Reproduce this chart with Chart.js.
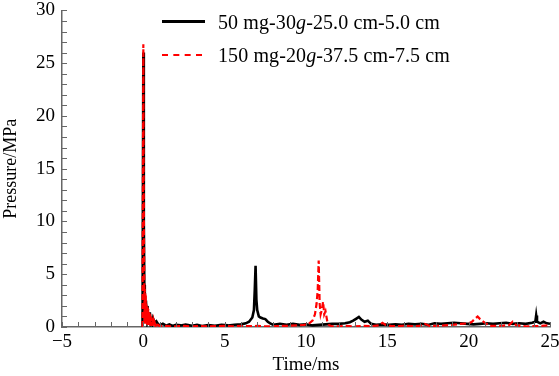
<!DOCTYPE html>
<html>
<head>
<meta charset="utf-8">
<script src="https://cdn.jsdelivr.net/npm/chart.js@4/dist/chart.umd.min.js"></script>
<style>
  html, body { margin: 0; padding: 0; background: #fff; }
  #wrap { position: relative; width: 559px; height: 376px; }
  #legend { position: absolute; left: 162px; top: 8px; font-family: "Liberation Serif", serif; font-size: 20px; letter-spacing: 0.1px; color: #000; }
  .row { position: absolute; left: 0; white-space: nowrap; height: 28px; line-height: 28px; }
  .swatch { position: absolute; left: 0; width: 43px; top: 14px; }
  .label { position: absolute; left: 56px; top: 0; }
</style>
</head>
<body>
<div id="wrap">
  <canvas id="chart" width="559" height="376"></canvas>
  <div id="legend">
    <div class="row" style="top:0px"><div class="swatch" style="border-top:3px solid #000;top:12px"></div><div class="label">50 mg-30<i>g</i>-25.0 cm-5.0 cm</div></div>
    <div class="row" style="top:33px"><div class="swatch" style="border-top:2px dashed #ff0000;width:40px;top:13px"></div><div class="label">150 mg-20<i>g</i>-37.5 cm-7.5 cm</div></div>
  </div>
</div>
<script>
// series 1: 50 mg-30g-25.0 cm-5.0 cm
const blackTime = [-0.05, 0.0, 0.03, 0.06, 0.08, 0.1, 0.13, 0.16, 0.2, 0.23, 0.26, 0.3, 0.35, 0.4, 0.45, 0.5, 0.55, 0.6, 0.7, 0.8, 0.9, 1.0, 1.2, 1.4, 1.6, 1.8, 2.0, 2.3, 2.6, 3.0, 3.3, 3.6, 4.0, 4.4, 4.8, 5.2, 5.6, 6.0, 6.3, 6.5, 6.7, 6.8, 6.85, 6.9, 6.95, 7.0, 7.1, 7.2, 7.35, 7.5, 7.65, 7.8, 8.0, 8.4, 8.8, 9.2, 9.6, 10.0, 10.4, 10.8, 11.2, 11.6, 12.0, 12.4, 12.7, 12.9, 13.1, 13.25, 13.4, 13.6, 13.8, 14.0, 14.3, 14.7, 15.1, 15.5, 15.9, 16.3, 16.7, 17.1, 17.5, 17.9, 18.3, 18.7, 19.1, 19.5, 19.9, 20.3, 20.7, 21.1, 21.5, 21.9, 22.3, 22.7, 23.1, 23.5, 23.9, 24.1, 24.15, 24.2, 24.4, 24.6, 24.8, 25.0];
const blackP    = [0, 26.0, 10.0, 4.0, 1.5, 3.2, 1.0, 2.5, 0.8, 2.0, 0.7, 1.0, 0.5, 1.4, 0.4, 0.6, 0.3, 0.8, 0.4, 0.55, 0.3, 0.15, 0.3, 0.12, 0.25, 0.1, 0.2, 0.15, 0.22, 0.12, 0.2, 0.1, 0.18, 0.12, 0.2, 0.15, 0.22, 0.25, 0.35, 0.5, 0.9, 1.6, 3.5, 5.8, 2.6, 1.6, 1.0, 0.9, 0.8, 0.75, 0.5, 0.35, 0.2, 0.3, 0.2, 0.3, 0.2, 0.25, 0.15, 0.2, 0.25, 0.3, 0.3, 0.35, 0.45, 0.6, 0.8, 0.95, 0.7, 0.5, 0.6, 0.3, 0.2, 0.25, 0.2, 0.25, 0.2, 0.3, 0.25, 0.3, 0.2, 0.35, 0.3, 0.35, 0.4, 0.35, 0.3, 0.25, 0.3, 0.35, 0.3, 0.35, 0.4, 0.3, 0.35, 0.3, 0.4, 0.5, 1.1, 0.5, 0.35, 0.5, 0.35, 0.3];

// series 2: 150 mg-20g-37.5 cm-7.5 cm
const redTime = [-0.05, 0.0, 0.02, 0.04, 0.06, 0.075, 0.09, 0.105, 0.12, 0.135, 0.15, 0.165, 0.18, 0.195, 0.21, 0.225, 0.24, 0.255, 0.27, 0.285, 0.3, 0.32, 0.34, 0.36, 0.38, 0.4, 0.42, 0.44, 0.46, 0.48, 0.5, 0.53, 0.56, 0.59, 0.62, 0.66, 0.7, 0.75, 0.8, 0.85, 0.9, 1.0, 1.3, 1.6, 2.0, 2.5, 3.0, 3.5, 4.0, 4.5, 5.0, 5.5, 6.0, 6.5, 7.0, 7.5, 8.0, 8.5, 9.0, 9.5, 9.9, 10.2, 10.4, 10.55, 10.65, 10.72, 10.78, 10.84, 10.9, 10.97, 11.05, 11.12, 11.2, 11.3, 11.4, 11.6, 12.0, 12.5, 13.0, 13.5, 14.0, 14.5, 14.7, 14.9, 15.2, 15.6, 16.0, 16.5, 17.0, 17.3, 17.6, 18.0, 18.5, 19.0, 19.5, 20.0, 20.2, 20.4, 20.55, 20.7, 20.9, 21.1, 21.3, 21.7, 22.1, 22.5, 22.7, 22.9, 23.2, 23.6, 24.0, 24.4, 24.8, 25.0];
const redP    = [0, 26.8, 14.0, 8.0, 3.7, 0.3, 3.6, 0.4, 3.2, 0.3, 3.0, 0.4, 2.2, 0.3, 2.0, 0.3, 1.9, 0.2, 1.8, 0.3, 1.7, 0.2, 1.5, 0.2, 1.3, 0.2, 1.2, 0.1, 1.0, 0.1, 0.9, 0.1, 0.7, 0.1, 0.5, 0.1, 0.4, 0.1, 0.3, 0.05, 0.2, 0.1, 0.12, 0.08, 0.05, 0.1, 0.05, 0.1, 0.05, 0.08, 0.1, 0.05, 0.1, 0.08, 0.1, 0.05, 0.08, 0.1, 0.12, 0.15, 0.2, 0.35, 0.6, 1.2, 2.2, 3.5, 6.3, 2.2, 1.2, 1.6, 2.4, 1.2, 1.5, 0.6, 0.2, 0.05, 0.05, 0.1, 0.05, 0.1, 0.08, 0.15, 0.4, 0.2, 0.1, 0.08, 0.12, 0.08, 0.1, 0.3, 0.1, 0.1, 0.15, 0.2, 0.3, 0.35, 0.5, 0.8, 1.0, 0.75, 0.5, 0.3, 0.1, 0.1, 0.12, 0.2, 0.5, 0.2, 0.1, 0.05, 0.08, 0.1, 0.15, 0.2];

const xTicks = [-5, 0, 5, 10, 15, 20, 25];
const yTicks = [0, 5, 10, 15, 20, 25, 30];

const serif = '"Liberation Serif", "Times New Roman", serif';

// draws inward tick marks (major + minor every 1 unit)
const innerTicks = {
  id: 'innerTicks',
  afterDraw(chart) {
    const ctx = chart.ctx;
    const xs = chart.scales.x, ys = chart.scales.y;
    const area = chart.chartArea;
    ctx.save();
    ctx.strokeStyle = '#666';
    ctx.lineWidth = 1;
    ctx.beginPath();
    for (let v = -5; v <= 25; v++) {
      const px = Math.round(xs.getPixelForValue(v)) + 0.5;
      ctx.moveTo(px, area.bottom);
      ctx.lineTo(px, area.bottom - 5);
    }
    for (let v = 0; v <= 30; v++) {
      const py = Math.round(ys.getPixelForValue(v)) + 0.5;
      ctx.moveTo(area.left, py);
      ctx.lineTo(area.left + 5, py);
    }
    ctx.stroke();
    ctx.restore();
  }
};

const ctx = document.getElementById('chart').getContext('2d');
const chart = new Chart(ctx, {
  type: 'line',
  data: {
    datasets: [
      {
        label: '50 mg-30g-25.0 cm-5.0 cm',
        data: blackTime.map((t, i) => ({ x: t, y: blackP[i] })),
        borderColor: '#000',
        borderWidth: 2.6,
        pointRadius: 0,
        tension: 0,
        order: 2
      },
      {
        label: '150 mg-20g-37.5 cm-7.5 cm',
        data: redTime.map((t, i) => ({ x: t, y: redP[i] })),
        borderColor: '#ff0000',
        borderWidth: 2.2,
        borderDash: [6, 3],
        pointRadius: 0,
        tension: 0,
        order: 1
      }
    ]
  },
  options: {
    responsive: false,
    animation: false,
    layout: { padding: { left: 0, right: 9, top: 6, bottom: 0 } },
    plugins: {
      legend: { display: false },
      tooltip: { enabled: false }
    },
    scales: {
      x: {
        type: 'linear',
        min: -5,
        max: 25,
        afterBuildTicks: s => { s.ticks = xTicks.map(v => ({ value: v })); },
        afterFit: s => { s.height = 49; },
        grid: { display: false },
        border: { display: true, color: '#666', width: 1.5 },
        ticks: {
          color: '#000',
          font: { family: serif, size: 19 },
          padding: -4,
          maxRotation: 0,
          callback: v => (v < 0 ? '\u2212' + Math.abs(v) : String(v))
        },
        title: {
          display: true,
          text: 'Time/ms',
          color: '#000',
          font: { family: serif, size: 19 },
          padding: { top: -4, bottom: 0 }
        }
      },
      y: {
        min: 0,
        max: 30,
        afterBuildTicks: s => { s.ticks = yTicks.map(v => ({ value: v })); },
        afterFit: s => { s.width = 62; },
        grid: { display: false },
        border: { display: true, color: '#666', width: 1.5 },
        ticks: {
          color: '#000',
          font: { family: serif, size: 19 },
          padding: -1
        },
        title: {
          display: true,
          text: 'Pressure/MPa',
          color: '#000',
          font: { family: serif, size: 18 },
          padding: { top: 0, bottom: 0 }
        }
      }
    }
  },
  plugins: [innerTicks]
});
</script>
</body>
</html>
